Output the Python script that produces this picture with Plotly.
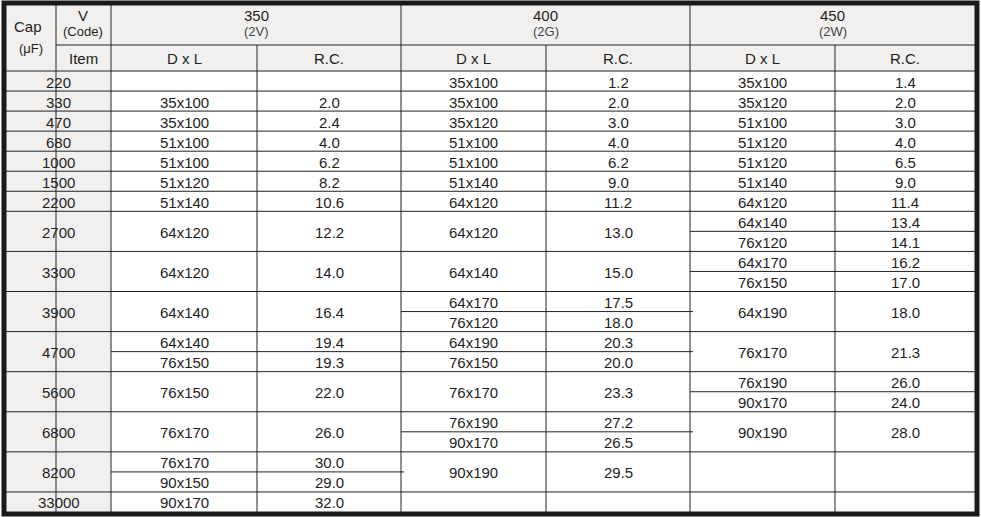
import plotly.graph_objects as go

caps = ["220","330","470","680","1000","1500","2200","2700","3300","3900","4700","5600","6800","8200","33000"]
voltages = ["350","400","450"]
codes = ["(2V)","(2G)","(2W)"]
sub_headers = ["D x L","R.C."]
v350 = [[],[("35x100","2.0")],[("35x100","2.4")],[("51x100","4.0")],[("51x100","6.2")],[("51x120","8.2")],[("51x140","10.6")],
        [("64x120","12.2")],[("64x120","14.0")],[("64x140","16.4")],[("64x140","19.4"),("76x150","19.3")],[("76x150","22.0")],
        [("76x170","26.0")],[("76x170","30.0"),("90x150","29.0")],[("90x170","32.0")]]
v400 = [[("35x100","1.2")],[("35x100","2.0")],[("35x120","3.0")],[("51x100","4.0")],[("51x100","6.2")],[("51x140","9.0")],[("64x120","11.2")],
        [("64x120","13.0")],[("64x140","15.0")],[("64x170","17.5"),("76x120","18.0")],[("64x190","20.3"),("76x150","20.0")],[("76x170","23.3")],
        [("76x190","27.2"),("90x170","26.5")],[("90x190","29.5")],[]]
v450 = [[("35x100","1.4")],[("35x120","2.0")],[("51x100","3.0")],[("51x120","4.0")],[("51x120","6.5")],[("51x140","9.0")],[("64x120","11.4")],
        [("64x140","13.4"),("76x120","14.1")],[("64x170","16.2"),("76x150","17.0")],[("64x190","18.0")],[("76x170","21.3")],
        [("76x190","26.0"),("90x170","24.0")],[("90x190","28.0")],[],[]]
groups = [v350, v400, v450]
units = [1]*7 + [2]*7 + [1]

X = [6, 56, 111, 257, 401, 546, 690, 835, 975]
Y0, YM, YH, YB = 5, 45, 71, 512
U = (YB - YH) / sum(units)
GRAY = "#f1f0ee"; LINE = "#222"; TXT = "#1e1e1e"
FONT = "Liberation Sans, Arial, sans-serif"

shapes, ann = [], []
def rect(x0, y0, x1, y1, fill):
    shapes.append(dict(type="rect", x0=x0, x1=x1, y0=y0, y1=y1, fillcolor=fill, line=dict(width=0), layer="below"))
def line(x0, y0, x1, y1, w=1, c=LINE):
    shapes.append(dict(type="line", x0=x0, x1=x1, y0=y0, y1=y1, line=dict(color=c, width=w)))
def text(x, y, s, size=15, color=TXT):
    ann.append(dict(x=x, y=y, text=s, showarrow=False, font=dict(size=size, color=color, family=FONT), xanchor="center", yanchor="middle"))

rect(X[0], Y0, X[-1], YH, GRAY)
rect(X[0], YH, X[2], YB, GRAY)
rect(X[2], YH, X[-1], YB, "white")

text(28, 26, "Cap"); text(31, 48, "(μF)", 13)
text(83, 15, "V"); text(83, 31, "(Code)", 13)
text(83, 58, "Item")
for i, (v, c) in enumerate(zip(voltages, codes)):
    cx = (X[2+2*i] + X[4+2*i]) / 2
    text(cx, 15, v); text(cx, 31, c, 13, "#444")
    for j, sh in enumerate(sub_headers):
        text((X[2+2*i+j] + X[3+2*i+j]) / 2, 58, sh)
line(X[1], YM, X[-1], YM)
line(X[0], YH, X[-1], YH)
for k in range(1, 8):
    y0 = Y0 if k in (1, 2, 4, 6) else YM
    line(X[k], y0, X[k], YB)

y = YH
for r, cap in enumerate(caps):
    h = units[r] * U
    text((X[0] + X[2]) / 2, y + h / 2 + 1, cap)
    for g, grp in enumerate(groups):
        items = grp[r]
        n = len(items)
        for m, (d, rc) in enumerate(items):
            sh = h / n
            cy = y + sh * m + sh / 2 + 1
            text((X[2+2*g] + X[3+2*g]) / 2, cy, d)
            text((X[3+2*g] + X[4+2*g]) / 2, cy, rc)
        if n == 2:
            line(X[2+2*g], y + h / 2, X[4+2*g] + 3, y + h / 2)
    y += h
    if r < len(caps) - 1:
        line(X[0], y, X[-1], y)

shapes.append(dict(type="rect", x0=4, x1=977, y0=3, y1=514, line=dict(color="#1a1a1a", width=5)))

fig = go.Figure()
fig.update_layout(width=981, height=517, margin=dict(l=0, r=0, t=0, b=0, pad=0),
                  paper_bgcolor="white", plot_bgcolor="white", shapes=shapes, annotations=ann,
                  xaxis=dict(range=[0, 981], visible=False, fixedrange=True),
                  yaxis=dict(range=[517, 0], visible=False, fixedrange=True), showlegend=False)
fig.write_html("out.html", config={"displayModeBar": False},
               post_script="document.body.style.margin='0';document.body.style.overflow='hidden';")
